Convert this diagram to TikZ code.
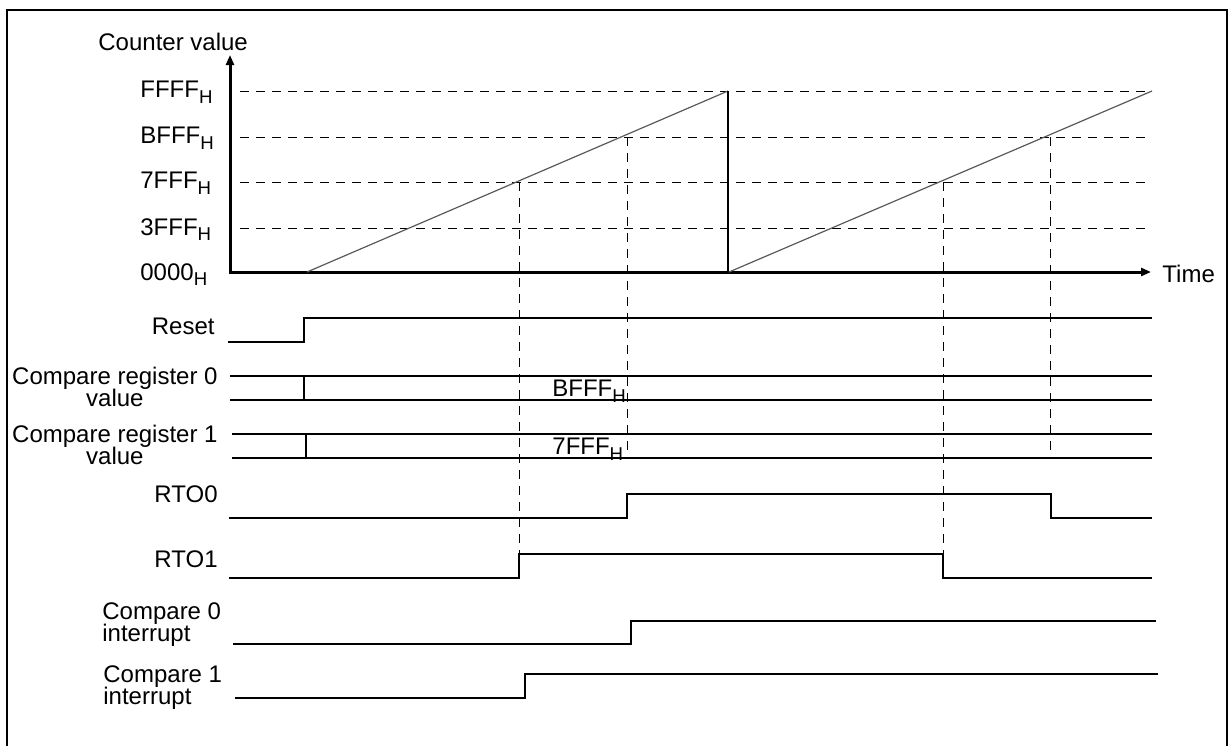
\documentclass[tikz,border=0pt]{standalone}
\usepackage{fontspec}
\setmainfont{Liberation Sans}
\usetikzlibrary{arrows.meta}
\newcommand{\hsub}{\raisebox{-2.6pt}{\fontsize{9.3}{9.3}\selectfont H}}
\newcommand{\tightlines}{\lineskiplimit=-20pt\relax}
\begin{document}
\begin{tikzpicture}[x=0.5pt,y=-0.5pt,
    font=\fontsize{12}{11}\selectfont\tightlines,
    lbl/.style={inner sep=0pt},
    sig/.style={line width=0.9pt},
    guide/.style={line width=0.5pt, dash pattern=on 4.5pt off 3.5pt},
    ramp/.style={line width=0.6pt, black!65}]
  \useasboundingbox (0,0) rectangle (1230,745);
  % cornice
  \draw[line width=1.2pt] (7,760) -- (7,10) -- (1227,10) -- (1227,760);

  % assi del contatore
  \draw[line width=1.5pt, {Triangle[length=5pt,width=4pt]}-{Triangle[length=5pt,width=4pt]}]
    (230,55) -- (230,272) -- (1151,272);
  \node[lbl, anchor=north west] (cval) at (98,33) {Counter value};
  \node[lbl, anchor=north west] (time) at (1162,265) {Time};

  % livelli del contatore
  \foreach \y/\t in {91/FFFF, 137/BFFF, 182/7FFF, 228/3FFF} {
    \draw[guide] (240,\y) -- (1152,\y);
    \node[lbl, anchor=north west] (lv\t) at (140,\y-10) {\t\hsub};
  }
  \node[lbl, anchor=north west] (lv0000) at (140,263) {0000\hsub};

  % rampe
  \coordinate (r1a) at (307,272);
  \coordinate (r1b) at (728,91);
  \coordinate (r2a) at (729,272);
  \coordinate (r2b) at (1152,91);
  \draw[ramp] (r1a) -- (r1b);
  \draw[line width=0.7pt] (r1b) -- (728,272);
  \draw[ramp] (r2a) -- (r2b);

  % punti di confronto
  \coordinate (m1) at (519,182);
  \coordinate (m2) at (627,137);
  \coordinate (m3) at (943,182);
  \coordinate (m4) at (1050,137);
  \draw[guide] (m1) -- (519,554);
  \draw[guide] (m2) -- (627,458);
  \draw[guide] (m3) -- (943,554);
  \draw[guide] (m4) -- (1050,458);

  % segnali
  \draw[sig] (228,342) -- (304,342) -- (304,318) -- (1152,318);
  \node[lbl, anchor=north east] (reset) at (215,318) {Reset};

  \draw[sig] (230,376) -- (1152,376) (230,400) -- (1152,400) (304,376) -- (304,400);
  \node[lbl, anchor=north east, align=center] (cmp0) at (218,367) {Compare register 0\\value};
  \node[lbl, anchor=north west] (v0) at (552,380) {BFFF\hsub};

  \draw[sig] (232,434) -- (1152,434) (232,458) -- (1152,458) (306,434) -- (306,458);
  \node[lbl, anchor=north east, align=center] (cmp1) at (218,425) {Compare register 1\\value};
  \node[lbl, anchor=north west] (v1) at (552,438) {7FFF\hsub};

  \draw[sig] (229,518) -- (627,518) -- (627,494) -- (1051,494) -- (1051,518) -- (1152,518);
  \node[lbl, anchor=north east] (rto0) at (218,485) {RTO0};

  \draw[sig] (229,578) -- (519,578) -- (519,554) -- (943,554) -- (943,578) -- (1152,578);
  \node[lbl, anchor=north east] (rto1) at (218,550) {RTO1};

  \draw[sig] (233,644) -- (631,644) -- (631,621) -- (1156,621);
  \node[lbl, anchor=north west, align=left] (int0) at (102,602) {Compare 0\\interrupt};

  \draw[sig] (235,698) -- (525,698) -- (525,674) -- (1158,674);
  \node[lbl, anchor=north west, align=left] (int1) at (103,665) {Compare 1\\interrupt};
\end{tikzpicture}
\end{document}
